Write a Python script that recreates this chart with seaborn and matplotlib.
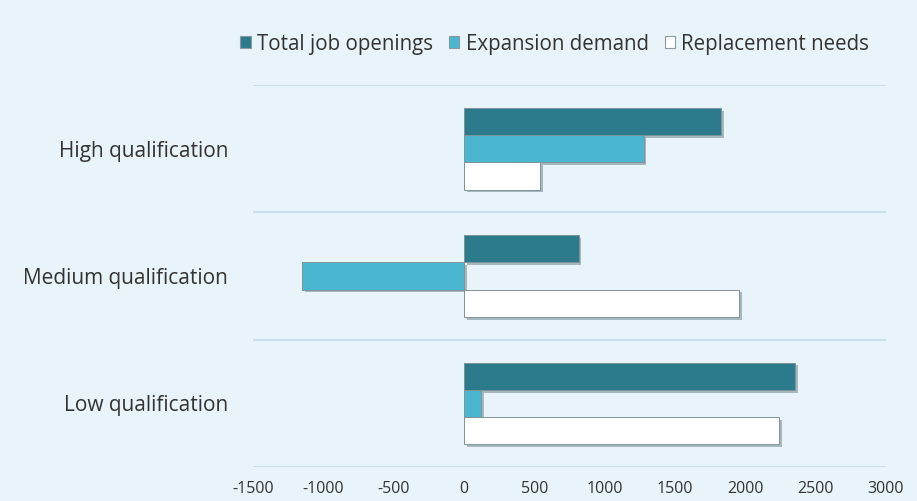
import matplotlib
matplotlib.use("Agg")
import matplotlib.pyplot as plt
import matplotlib.patheffects as pe
import seaborn as sns
import pandas as pd
import numpy as np

categories = ["High qualification", "Medium qualification", "Low qualification"]
series = ["Total job openings", "Expansion demand", "Replacement needs"]
total_openings = [1830, 815, 2355]
expansion_demand = [1277, -1150, 120]
replacement_needs = [540, 1957, 2240]
x_ticks = [-1500, -1000, -500, 0, 500, 1000, 1500, 2000, 2500, 3000]

bg = "#e8f4fa"
colors = ["#2b7b8d", "#4ab6cf", "#ffffff"]

df = pd.DataFrame({
    "category": categories * 3,
    "series": [s for s in series for _ in categories],
    "value": total_openings + expansion_demand + replacement_needs,
})

sns.set_theme(style="white")
plt.rcParams["font.family"] = ["Open Sans", "DejaVu Sans"]

fig = plt.figure(figsize=(9.17, 5.01), dpi=100, facecolor=bg)
ax = fig.add_axes([0.276, 0.068, 0.690, 0.762])
ax.set_facecolor(bg)

sns.barplot(data=df, y="category", x="value", hue="series", order=categories,
            hue_order=series, palette=colors, orient="h", width=0.64,
            edgecolor="#7f9399", linewidth=0.7, saturation=1, ax=ax, legend=False)

shadow = [pe.SimplePatchShadow(offset=(2, -2), shadow_rgbFace="#7d8f96", alpha=0.6), pe.Normal()]
for p in ax.patches:
    p.set_path_effects(shadow)

ax.set_xlim(-1500, 3000)
ax.set_ylim(2.5, -0.5)
ax.set_xticks(x_ticks)
ax.set_xticklabels([str(t) for t in x_ticks], fontsize=11.5, color="#333333")
ax.tick_params(axis="x", length=0, pad=10)
ax.tick_params(axis="y", length=0, pad=18, labelsize=15, labelcolor="#333333")
ax.set_xlabel("")
ax.set_ylabel("")
for s in ax.spines.values():
    s.set_visible(False)
ax.set_yticks(np.arange(-0.5, 3, 1), minor=True)
ax.grid(True, which="minor", axis="y", color="#c4dde6", linewidth=1.2)
ax.grid(False, which="major")

handles = [plt.Rectangle((0, 0), 1, 1, facecolor=c, edgecolor="#8a9aa0", linewidth=0.8) for c in colors]
fig.legend(handles, series, loc="center", bbox_to_anchor=(0.605, 0.912), ncol=3, frameon=False,
           fontsize=14.8, handlelength=0.5, handleheight=0.5, handletextpad=0.3, columnspacing=0.8,
           labelcolor="#333333")

fig.savefig("out.png", dpi=100, facecolor=bg)
